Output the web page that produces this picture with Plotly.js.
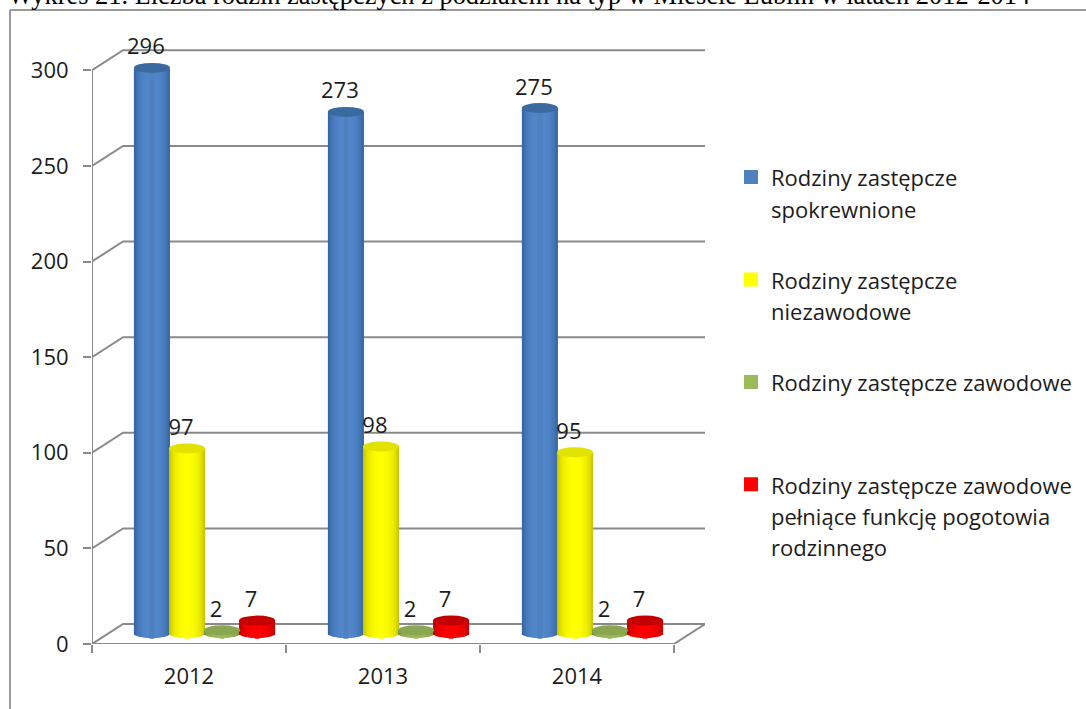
<!DOCTYPE html>
<html><head><meta charset="utf-8">
<script src="https://cdn.plot.ly/plotly-3.0.1.min.js"></script>
<style>html,body{margin:0;padding:0;background:#fff}</style>
</head><body><div id="chart" style="width:1086px;height:709px"></div>
<script>
var categories = ['2012','2013','2014'];
var yTicks = [0,50,100,150,200,250,300];
var seriesNames = ['Rodziny zastępcze<br>spokrewnione','Rodziny zastępcze<br>niezawodowe','Rodziny zastępcze zawodowe<br>&#160;','Rodziny zastępcze zawodowe<br>pełniące funkcję pogotowia<br>rodzinnego'];
var spokrewnione = [296,273,275];
var niezawodowe = [97,98,95];
var zawodowe = [2,2,2];
var pogotowie = [7,7,7];
var seriesValues = [spokrewnione,niezawodowe,zawodowe,pogotowie];
var centerColors = [[82,136,205],[255,255,0],[155,187,89],[255,0,0]];
var edgeColors = [[44,88,142],[176,176,0],[110,135,58],[165,0,0]];
var topColors = ['#3a6a9f','#e2e200','#8aa650','#c40000'];
var swatchColors = ['#4f81bd','#ffff00','#9bbb59','#ff0000'];

var catW = 193.67, unitPx = 1.9133;   // px per category, px per value unit
var depthX = 31/catW, depthY = 20/unitPx;   // back wall offset
var midX = depthX/2, midY = depthY/2;
var slot = 35/catW, barW = 36/catW;
var botH = 3.8/unitPx, topH = 5/unitPx;
var layers = 12;
var textFont = {family:'Open Sans',size:22,color:'#1c1c1c'};
var spanOpen = '<span style="font-size:22px">';

var traces = [], shapes = [];
seriesValues.forEach(function(vals,s){
  var off = midX + (s-1.5)*slot;
  for (var k=0;k<layers;k++){
    var u = 1 - k/layers;           // half-width ratio, outer to inner
    var t = Math.sqrt(1-Math.pow(1-(k+0.5)/layers,2));
    var col = centerColors[s].map(function(c,i){return Math.round(edgeColors[s][i]+(c-edgeColors[s][i])*t);});
    var isInner = k===layers-1;
    traces.push({
      type:'bar', x:[0,1,2], y:vals.map(function(v){return v+botH*t;}),
      base:[0,1,2].map(function(){return midY-botH*t;}),
      offset:off-barW*u/2, width:barW*u,
      marker:{color:isInner?swatchColors[s]:'rgb('+col.join(',')+')',line:isInner?{width:2,color:swatchColors[s]}:{width:0}},
      name:spanOpen+seriesNames[s].split('<br>').join('</span><br>'+spanOpen)+'</span>',
      legendgroup:'g'+s, showlegend:isInner, hoverinfo:'skip'
    });
  }
  vals.forEach(function(v,c){
    var cx=c+off, h=barW/2, y=v+midY;
    shapes.push({type:'circle',xref:'x',yref:'y',x0:cx-h,x1:cx+h,y0:y-topH,y1:y+topH,
      fillcolor:topColors[s],line:{width:0},layer:'above'});
  });
  // data labels
  traces.push({type:'scatter',mode:'text',x:[0,1,2].map(function(c){return c+off-6/catW;}),
    y:vals.map(function(v){return v+midY+19/unitPx;}),
    text:vals.map(String),textposition:'middle center',cliponaxis:false,
    textfont:textFont,showlegend:false,hoverinfo:'skip'});
});

var xEnd = 2.5, xRight = xEnd+depthX, xLeft=-0.5;
var grid={color:'#8a8a8a',width:2};
yTicks.forEach(function(v){
  shapes.push({type:'path',xref:'x',yref:'y',layer:'below',line:grid,
    path:'M'+xLeft+','+v+'L'+(xLeft+depthX)+','+(v+depthY)+'L'+xRight+','+(v+depthY)});
});
shapes.push({type:'path',xref:'x',yref:'y',layer:'below',line:grid,
  path:'M'+xLeft+',0L'+xEnd+',0L'+xRight+','+depthY});
shapes.push({type:'line',xref:'x',yref:'y',layer:'below',line:grid,x0:xLeft,x1:xLeft,y0:0,y1:300});
// outer frame
var frame={color:'#9a9a9a',width:2};
shapes.push({type:'line',xref:'paper',yref:'paper',x0:(10-92)/613,x1:(1086-92)/613,y0:(644-10)/612,y1:(644-10)/612,line:frame});
shapes.push({type:'line',xref:'paper',yref:'paper',x0:(10-92)/613,x1:(10-92)/613,y0:(644-10)/612,y1:(644-709)/612,line:frame});

var layout={
  width:1086,height:709,paper_bgcolor:'#fff',plot_bgcolor:'#fff',
  margin:{l:92,r:381,t:32,b:65,pad:0},
  barmode:'overlay',
  title:{text:'Wykres 21. Liczba rodzin zastępczych z podziałem na typ w Mieście Lublin w latach 2012-2014',
    font:{family:'Liberation Serif',size:26.4,color:'#000'},x:8/1086,xanchor:'left',y:1-4/709,yanchor:'bottom',yref:'container'},
  xaxis:{range:[xLeft,xRight],tickmode:'array',tickvals:[0,1,2],ticktext:categories,ticks:'',showgrid:false,zeroline:false,showline:false,
    tickfont:textFont,ticklabelstandoff:17,
    minor:{tickmode:'array',tickvals:[-0.5,0.5,1.5,2.5],ticks:'outside',ticklen:8,tickwidth:2,tickcolor:'#8a8a8a',showgrid:false}},
  yaxis:{range:[0,320],tickmode:'array',tickvals:yTicks,ticks:'outside',ticklen:8,tickwidth:2,tickcolor:'#8a8a8a',showgrid:false,zeroline:false,showline:false,
    tickfont:textFont,ticklabelstandoff:10},
  legend:{xref:'container',yref:'paper',x:731/1086,xanchor:'left',y:(644-155)/612,yanchor:'top',traceorder:'grouped',tracegroupgap:37,valign:'top',
    font:{family:'Open Sans',size:24,color:'#1c1c1c'},bgcolor:'rgba(0,0,0,0)',itemclick:false,itemdoubleclick:false},
  shapes:shapes,showlegend:true
};
Plotly.newPlot('chart',traces,layout,{displayModeBar:false,staticPlot:true});
</script></body></html>
